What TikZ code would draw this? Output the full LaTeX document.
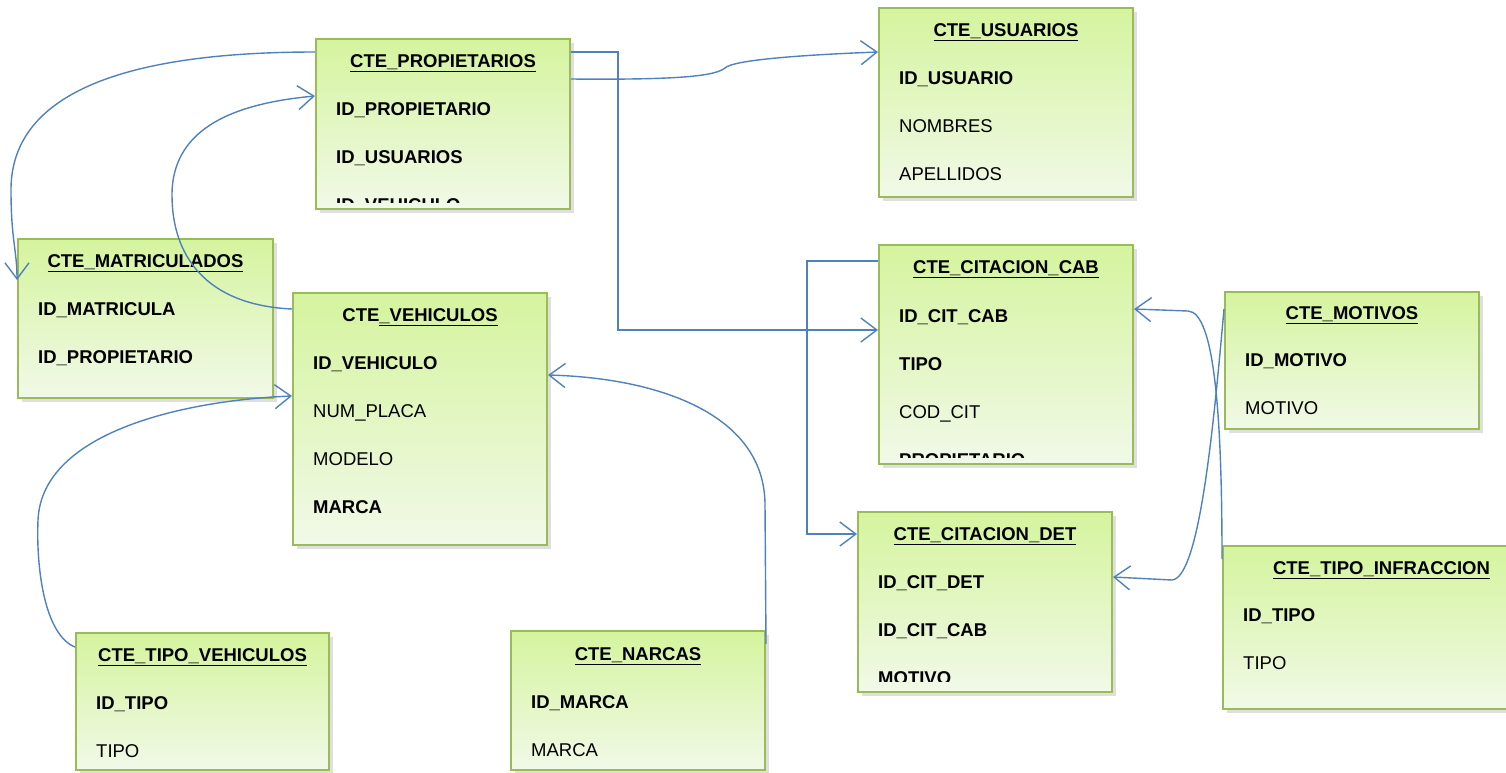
\documentclass[tikz,border=0pt]{standalone}
\usepackage{fontspec}
\setmainfont{Liberation Sans}
\usepackage{tikz}
\usetikzlibrary{arrows.meta, shadows}
\definecolor{linea}{HTML}{4F81BD}
\definecolor{borde}{HTML}{9BBB59}
\definecolor{verdearriba}{HTML}{D5F49E}
\definecolor{verdeabajo}{HTML}{F1F9E8}

\begin{document}
\begin{tikzpicture}[x=1pt, y=-1pt]
      \tikzstyle{tabla}=[rectangle, draw=borde, line width=2pt, inner sep=0pt,
        top color=verdearriba, bottom color=verdeabajo,
        drop shadow={shadow xshift=4pt, shadow yshift=-4pt, opacity=0.25}]
      \tikzstyle{titulo}=[anchor=base, inner sep=0pt, font=\fontsize{18.5}{22}\selectfont\bfseries]
      \tikzstyle{campo}=[anchor=base west, inner sep=0pt, font=\fontsize{18.5}{22}\selectfont]
      \tikzstyle{rel}=[draw=linea, line width=1.4pt, -{Straight Barb[length=16pt, width=24pt]}]

      \useasboundingbox (0,0) rectangle (1506,772);
      \clip (0,0) rectangle (1506,772);

      % tables
      \node[tabla, minimum width=254pt, minimum height=170pt] (prop) at (443,124) {};
      \node[tabla, minimum width=254pt, minimum height=189pt] (usu) at (1006,102.5) {};
      \node[tabla, minimum width=255pt, minimum height=159pt] (mat) at (145.5,318.5) {};
      \node[tabla, minimum width=254pt, minimum height=252pt] (veh) at (420,419) {};
      \node[tabla, minimum width=254pt, minimum height=219pt] (cab) at (1006,354.5) {};
      \node[tabla, minimum width=254pt, minimum height=137pt] (mot) at (1352,360.5) {};
      \node[tabla, minimum width=254pt, minimum height=180pt] (det) at (985,602) {};
      \node[tabla, minimum width=317pt, minimum height=163pt] (inf) at (1381.5,627.5) {};
      \node[tabla, minimum width=253pt, minimum height=137pt] (tveh) at (202.5,701.5) {};
      \node[tabla, minimum width=254pt, minimum height=139pt] (mar) at (638,700.5) {};

      % titles
      \node[titulo] (propT) at (443,67.7) {\underline{CTE\_PROPIETARIOS}};
      \node[titulo] (usuT) at (1006,36.7) {\underline{CTE\_USUARIOS}};
      \node[titulo] (matT) at (145.5,267.7) {\underline{CTE\_MATRICULADOS}};
      \node[titulo] (vehT) at (420,321.7) {CTE\underline{\_VEHICULOS}};
      \node[titulo] (cabT) at (1006,273.7) {\underline{CTE\_CITACION\_CAB}};
      \node[titulo] (motT) at (1352,319.7) {\underline{CTE\_MOTIVOS}};
      \node[titulo] (detT) at (985,540.7) {\underline{CTE\_CITACION\_DET}};
      \node[titulo] (infT) at (1381.5,574.7) {\underline{CTE\_TIPO\_INFRACCION}};
      \node[titulo] (tvehT) at (202.5,661.7) {\underline{CTE\_TIPO\_VEHICULOS}};
      \node[titulo] (marT) at (638,660.7) {\underline{CTE\_NARCAS}};

      % fields
      \begin{scope}
        \clip (318,41) rectangle (568,202);
        \foreach \nom [count=\i] in {\textbf{ID\_PROPIETARIO}, \textbf{ID\_USUARIOS}, \textbf{ID\_VEHICULO}}
          \node[campo] (prop\i) at (336,{115.7+47.8*(\i-1)}) {\nom};
      \end{scope}
      \foreach \nom [count=\i] in {\textbf{ID\_USUARIO}, NOMBRES, APELLIDOS}
        \node[campo] (usu\i) at (899,{84.7+47.8*(\i-1)}) {\nom};
      \foreach \nom [count=\i] in {\textbf{ID\_MATRICULA}, \textbf{ID\_PROPIETARIO}}
        \node[campo] (mat\i) at (38,{315.7+47.8*(\i-1)}) {\nom};
      \foreach \nom [count=\i] in {\textbf{ID\_VEHICULO}, NUM\_PLACA, MODELO, \textbf{MARCA}}
        \node[campo] (veh\i) at (313,{369.7+47.8*(\i-1)}) {\nom};
      \begin{scope}
        \clip (881,247) rectangle (1131,457);
        \foreach \nom [count=\i] in {\textbf{ID\_CIT\_CAB}, \textbf{TIPO}, COD\_CIT, \textbf{PROPIETARIO}}
          \node[campo] (cab\i) at (899,{322.7+47.8*(\i-1)}) {\nom};
      \end{scope}
      \foreach \nom [count=\i] in {\textbf{ID\_MOTIVO}, MOTIVO}
        \node[campo] (mot\i) at (1245,{366.7+47.8*(\i-1)}) {\nom};
      \begin{scope}
        \clip (860,514) rectangle (1110,681);
        \foreach \nom [count=\i] in {\textbf{ID\_CIT\_DET}, \textbf{ID\_CIT\_CAB}, \textbf{MOTIVO}}
          \node[campo] (det\i) at (878,{588.7+47.8*(\i-1)}) {\nom};
      \end{scope}
      \foreach \nom [count=\i] in {\textbf{ID\_TIPO}, TIPO}
        \node[campo] (inf\i) at (1243,{621.7+47.8*(\i-1)}) {\nom};
      \foreach \nom [count=\i] in {\textbf{ID\_TIPO}, TIPO}
        \node[campo] (tveh\i) at (96,{709.7+47.8*(\i-1)}) {\nom};
      \foreach \nom [count=\i] in {\textbf{ID\_MARCA}, MARCA}
        \node[campo] (mar\i) at (531,{708.7+47.8*(\i-1)}) {\nom};

      % relations
      \draw[rel] ([yshift=-14pt]prop.north west) .. controls (70,52) and (11,120) .. (11,190)
        .. controls (11,240) and (17,250) .. ([yshift=-42pt]mat.north west);
      \draw[rel] ([yshift=-17pt]veh.north west) .. controls (205,305) and (172,255) .. (172,195)
        .. controls (172,125) and (240,103) .. ([yshift=-58pt]prop.north west);
      \draw[rel] ([yshift=-14pt]prop.north east) -- ++(47,0) |- ([yshift=-86pt]cab.north west);
      \draw[rel] ([yshift=-41pt]prop.north east) .. controls (680,80) and (715,76) .. (725,68)
        .. controls (733,60) and (800,55) .. ([yshift=-45pt]usu.north west);
      \draw[rel] ([yshift=-17pt]cab.north west) -- ++(-71,0) |- ([yshift=-23pt]det.north west);
      \draw[rel] ([yshift=-18pt]mot.north west) .. controls (1214,420) and (1200,578) .. (1172,580)
        -- ([yshift=-66pt]det.north east);
      \draw[rel] ([yshift=-14pt]inf.north west) .. controls (1222,420) and (1215,312) .. (1188,311)
        -- ([yshift=-65pt]cab.north east);
      \draw[rel] ([yshift=-15pt]tveh.north west) .. controls (45,635) and (36,570) .. (38,520)
        .. controls (42,430) and (190,400) .. ([yshift=-104pt]veh.north west);
      \draw[rel] ([yshift=-14pt]mar.north east) -- (765,505)
        .. controls (765,415) and (660,378) .. ([yshift=-83pt]veh.north east);
\end{tikzpicture}
\end{document}
